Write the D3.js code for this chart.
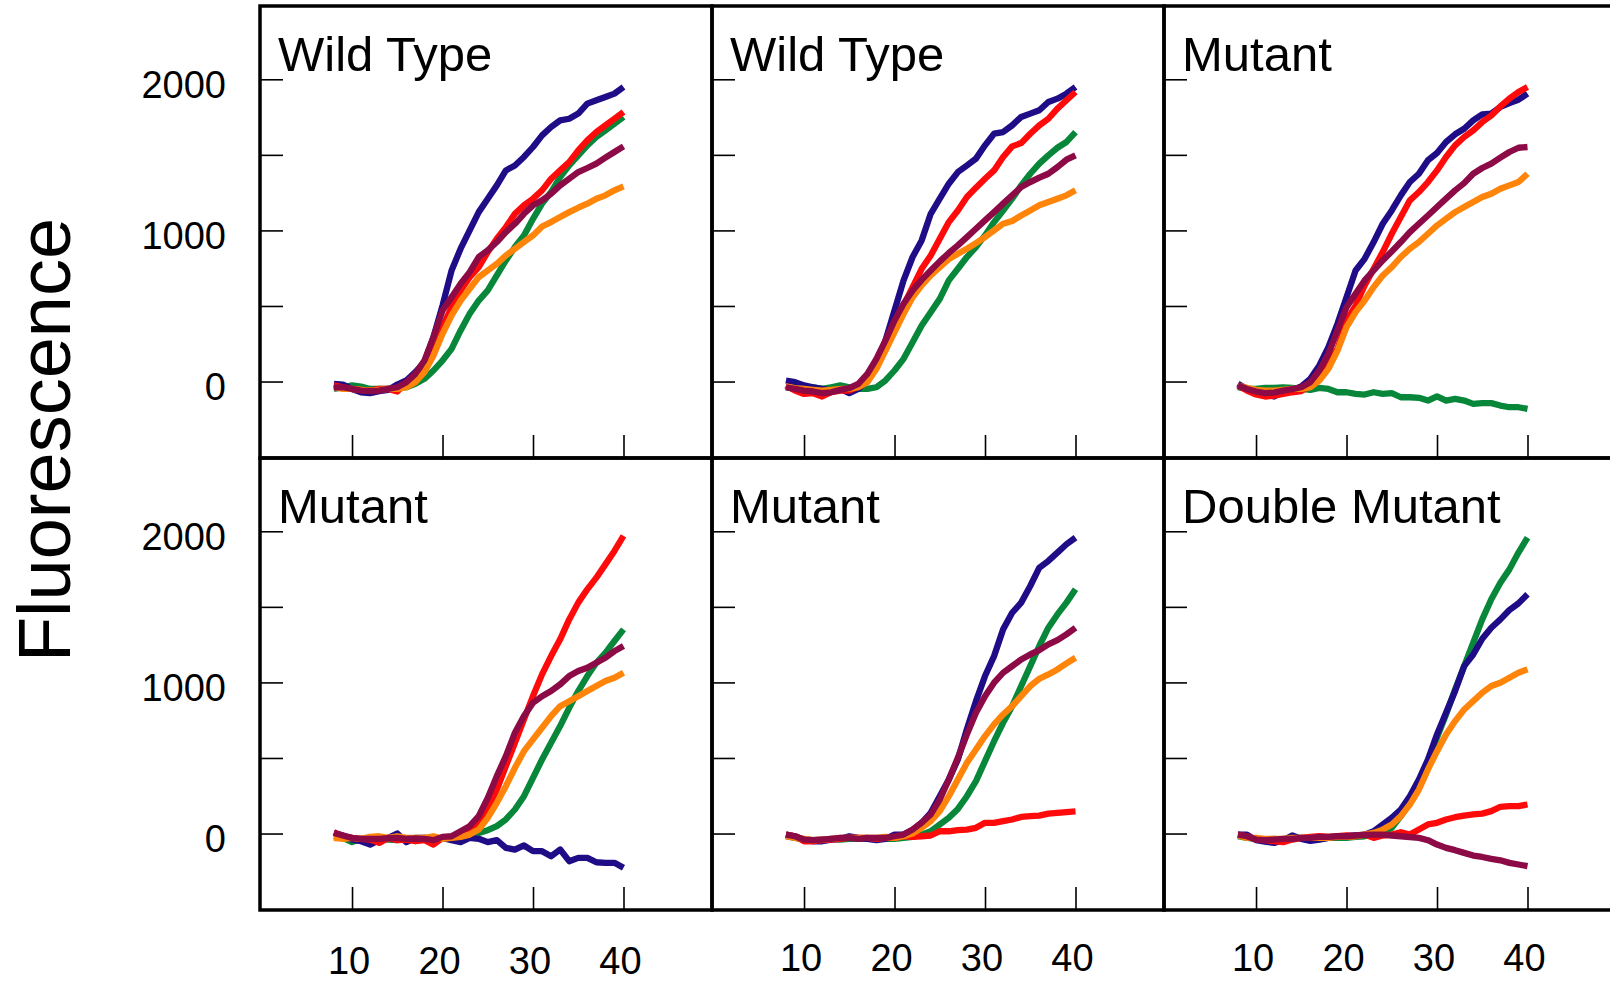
<!DOCTYPE html>
<html>
<head>
<meta charset="utf-8">
<script src="https://cdn.jsdelivr.net/npm/d3@7"></script>
<style>
  html, body { margin: 0; padding: 0; background: #ffffff; }
  svg { display: block; }
  text { font-family: "Liberation Sans", Arial, Helvetica, sans-serif; fill: #000; }
</style>
</head>
<body>
<svg id="chart" width="1610" height="981"></svg>
<script>
// ---------------- data ----------------
const cycles = [8,9,10,11,12,13,14,15,16,17,18,19,20,21,22,23,24,25,26,27,28,29,30,31,32,33,34,35,36,37,38,39,40];
const panelTitles = ["Wild Type", "Wild Type", "Mutant", "Mutant", "Mutant", "Double Mutant"];
const seriesKeys = ["green", "navy", "red", "orange", "maroon"];
const seriesColors = ["#08873a", "#1f0c87", "#ff0a0a", "#ff840a", "#8c0a46"];
const yTickValues = [0, 500, 1000, 1500, 2000];
const yLabelValues = [0, 1000, 2000];
const xTickValues = [10, 20, 30, 40];
const yAxisTitle = "Fluorescence";

// Panel 1 - Wild Type
const p1Navy   = [-15,-20,-49,-71,-77,-64,-55,-20,7,62,128,294,503,735,879,1000,1121,1210,1298,1397,1430,1486,1552,1629,1684,1728,1739,1773,1839,1861,1883,1905,1949];
const p1Red    = [-26,-38,-49,-55,-60,-49,-49,-66,-10,40,117,227,360,492,603,691,757,857,945,1022,1110,1166,1210,1265,1342,1397,1452,1530,1596,1651,1695,1739,1784];
const p1Green  = [-49,-38,-26,-33,-49,-49,-49,-49,-38,-15,18,73,139,216,338,448,536,603,702,801,890,967,1077,1177,1254,1353,1430,1497,1563,1618,1662,1706,1751];
const p1Maroon = [-38,-38,-49,-60,-64,-60,-49,-38,-4,51,139,294,470,558,647,724,824,868,923,989,1044,1110,1166,1199,1243,1298,1342,1386,1413,1442,1481,1519,1556];
const p1Orange = [-38,-49,-49,-55,-60,-55,-49,-49,-38,-4,62,172,316,437,536,614,691,735,779,834,879,923,967,1026,1055,1088,1121,1150,1177,1210,1232,1265,1291];

// Panel 2 - Wild Type
const p2Navy   = [7,-4,-26,-38,-49,-60,-49,-77,-49,7,95,272,470,669,824,934,1110,1210,1309,1386,1430,1475,1563,1640,1651,1695,1751,1773,1795,1850,1872,1905,1949];
const p2Red    = [-26,-60,-82,-77,-99,-71,-60,-60,-33,18,106,249,382,503,625,746,834,945,1055,1132,1221,1283,1342,1397,1486,1556,1578,1640,1695,1739,1806,1861,1916];
const p2Green  = [-38,-49,-49,-38,-49,-38,-26,-38,-49,-49,-38,7,73,150,260,371,459,547,669,746,824,890,967,1055,1132,1210,1298,1375,1442,1497,1547,1585,1651];
const p2Maroon = [-38,-49,-60,-66,-77,-71,-55,-44,-15,51,150,272,404,514,603,673,735,795,851,901,956,1011,1066,1121,1177,1232,1287,1320,1349,1375,1419,1468,1497];
const p2Orange = [-33,-44,-49,-55,-60,-55,-49,-49,-38,-4,84,205,327,448,558,636,702,757,810,846,879,916,956,1000,1044,1062,1099,1132,1166,1188,1210,1232,1265];

// Panel 3 - Mutant
const p3Navy   = [-15,-49,-71,-86,-99,-71,-55,-33,18,106,227,382,558,735,812,923,1044,1132,1232,1320,1375,1464,1512,1585,1636,1673,1728,1768,1773,1817,1843,1865,1905];
const p3Red    = [-26,-60,-86,-99,-93,-82,-71,-64,-26,51,128,216,404,503,636,746,857,978,1088,1199,1254,1320,1397,1486,1563,1618,1662,1717,1760,1820,1872,1916,1949];
const p3Green  = [-38,-49,-49,-42,-42,-38,-42,-49,-55,-42,-49,-71,-71,-82,-86,-71,-82,-77,-104,-104,-108,-126,-99,-126,-115,-126,-148,-143,-143,-159,-170,-170,-181];
const p3Maroon = [-26,-49,-66,-77,-73,-60,-51,-38,-4,73,183,338,492,581,669,735,801,861,923,989,1044,1099,1155,1210,1265,1313,1375,1413,1442,1481,1519,1547,1552];
const p3Orange = [-26,-42,-55,-60,-60,-55,-49,-49,-38,7,84,205,360,459,536,625,702,757,824,879,923,978,1033,1077,1121,1155,1188,1221,1243,1276,1298,1320,1375];

// Panel 4 - Mutant
const p4Navy   = [4,-13,-40,-51,-73,-44,-29,0,-57,-29,-29,-40,-29,-44,-57,-29,-35,-57,-44,-95,-106,-79,-117,-117,-150,-106,-183,-161,-161,-190,-194,-194,-227];
const p4Red    = [9,-18,-29,-35,-40,-62,-29,-44,-40,-51,-44,-73,-29,-29,-13,15,60,159,291,446,600,755,910,1053,1174,1285,1417,1528,1616,1693,1781,1870,1969];
const p4Green  = [-18,-29,-57,-35,-40,-35,-40,-44,-35,-40,-29,-35,-29,-22,-13,-7,4,22,49,93,159,247,369,490,600,711,832,943,1042,1130,1196,1274,1351];
const p4Maroon = [4,-13,-29,-35,-35,-35,-31,-29,-35,-33,-35,-44,-22,-18,15,49,115,236,380,512,667,777,865,909,943,987,1042,1075,1097,1130,1163,1207,1241];
const p4Orange = [-29,-35,-29,-35,-22,-18,-29,-18,-29,-29,-29,-18,-35,-29,-22,-7,26,104,203,313,435,545,623,700,777,843,876,909,943,976,1009,1031,1064];

// Panel 5 - Mutant
const p5Navy   = [-7,-18,-44,-51,-51,-40,-35,-18,-29,-35,-44,-35,-7,-7,22,71,137,247,358,490,690,876,1042,1174,1351,1461,1528,1638,1759,1804,1859,1914,1958];
const p5Red    = [-7,-18,-51,-51,-44,-40,-35,-29,-29,-29,-35,-29,-29,-18,-22,-18,-13,15,15,22,26,38,71,71,82,93,110,115,119,132,137,141,146];
const p5Green  = [-18,-29,-40,-44,-40,-35,-40,-35,-35,-35,-35,-35,-35,-29,-22,-7,15,60,104,163,247,347,479,611,733,843,976,1108,1241,1362,1450,1528,1616];
const p5Maroon = [-7,-18,-40,-44,-40,-35,-29,-29,-35,-29,-29,-29,-18,-7,26,71,126,225,358,501,656,799,909,998,1064,1108,1152,1185,1214,1252,1280,1318,1362];
const p5Orange = [-18,-29,-35,-44,-40,-35,-29,-29,-29,-29,-29,-22,-29,-18,0,38,82,148,247,358,468,556,645,722,788,843,909,976,1024,1053,1086,1126,1163];

// Panel 6 - Double Mutant
const p6Navy   = [-7,-7,-44,-53,-62,-44,-13,-35,-49,-40,-29,-22,-18,-13,-7,15,60,104,159,247,358,490,656,799,943,1108,1185,1289,1362,1417,1479,1523,1583];
const p6Red    = [-7,-18,-40,-44,-51,-57,-40,-29,-22,-18,-22,-18,-13,-18,-7,-29,-13,-7,9,-7,26,60,71,93,108,119,126,132,148,177,181,181,192];
const p6Green  = [-18,-29,-35,-40,-35,-44,-35,-29,-35,-35,-29,-29,-29,-22,-18,-7,4,38,115,203,325,468,634,788,954,1108,1263,1417,1550,1660,1748,1859,1958];
const p6Maroon = [-7,-18,-40,-44,-40,-35,-35,-29,-29,-22,-22,-18,-18,-13,-9,-7,-7,-13,-18,-24,-29,-44,-73,-95,-110,-128,-146,-155,-168,-177,-194,-205,-216];
const p6Orange = [-13,-29,-29,-35,-35,-35,-29,-29,-29,-29,-29,-22,-22,-18,-7,4,26,60,115,192,291,424,545,656,744,821,876,932,976,998,1031,1064,1086];

const panelSeries = [
  { green: p1Green, navy: p1Navy, red: p1Red, orange: p1Orange, maroon: p1Maroon },
  { green: p2Green, navy: p2Navy, red: p2Red, orange: p2Orange, maroon: p2Maroon },
  { green: p3Green, navy: p3Navy, red: p3Red, orange: p3Orange, maroon: p3Maroon },
  { green: p4Green, navy: p4Navy, red: p4Red, orange: p4Orange, maroon: p4Maroon },
  { green: p5Green, navy: p5Navy, red: p5Red, orange: p5Orange, maroon: p5Maroon },
  { green: p6Green, navy: p6Navy, red: p6Red, orange: p6Orange, maroon: p6Maroon }
];

// ---------------- layout ----------------
const left0 = 260, top0 = 6, cellW = 452, cellH = 452;
const xS = d3.scaleLinear().domain([-0.17, 49.78]).range([0, cellW]);
const yS = d3.scaleLinear().domain([-506, 2485]).range([cellH, 0]);
const colorOf = d3.scaleOrdinal().domain(seriesKeys).range(seriesColors);

const svg = d3.select("#chart");
svg.append("rect").attr("width", 1610).attr("height", 981).attr("fill", "#fff");

// Y axis title
svg.append("text")
  .attr("transform", "translate(70,440) rotate(-90)")
  .attr("text-anchor", "middle")
  .attr("font-size", 74)
  .text(yAxisTitle);

const line = d3.line()
  .x((d, i) => xS(cycles[i]))
  .y(d => yS(d))
  .curve(d3.curveLinear);

const xLabelBaseline = [974, 971, 971];

panelTitles.forEach((title, i) => {
  const col = i % 3, row = Math.floor(i / 3);
  const px = left0 + col * cellW, py = top0 + row * cellH;
  const g = svg.append("g").attr("transform", `translate(${px},${py})`);

  // lines
  seriesKeys.forEach(k => {
    g.append("path")
      .datum(panelSeries[i][k])
      .attr("d", line)
      .attr("fill", "none")
      .attr("stroke", colorOf(k))
      .attr("stroke-width", 6.3)
      .attr("stroke-linejoin", "round")
      .attr("stroke-linecap", "butt");
  });

  // y ticks (inward)
  const ya = g.append("g").call(
    d3.axisRight(yS).tickValues(yTickValues).tickSize(23).tickFormat(""));
  ya.select(".domain").remove();
  ya.selectAll("line").attr("stroke", "#000").attr("stroke-width", 1.6);

  // x ticks (inward, from bottom)
  const xa = g.append("g").attr("transform", `translate(0,${cellH})`).call(
    d3.axisTop(xS).tickValues(xTickValues).tickSize(23).tickFormat(""));
  xa.select(".domain").remove();
  xa.selectAll("line").attr("stroke", "#000").attr("stroke-width", 1.6);

  // border
  g.append("rect")
    .attr("x", 0).attr("y", 0)
    .attr("width", cellW).attr("height", cellH)
    .attr("fill", "none")
    .attr("stroke", "#000")
    .attr("stroke-width", 3.5);

  // title
  g.append("text")
    .attr("x", 18).attr("y", 65)
    .attr("font-size", 49)
    .text(title);

  // y tick labels (first column)
  if (col === 0) {
    yLabelValues.forEach(v => {
      svg.append("text")
        .attr("x", 226)
        .attr("y", py + yS(v) + 18.5)
        .attr("text-anchor", "end")
        .attr("font-size", 38)
        .text(String(v));
    });
  }
  // x tick labels (bottom row)
  if (row === 1) {
    xTickValues.forEach(c => {
      svg.append("text")
        .attr("x", px + xS(c) - 3)
        .attr("y", xLabelBaseline[col])
        .attr("text-anchor", "middle")
        .attr("font-size", 38)
        .text(String(c));
    });
  }
});
</script>
</body>
</html>
